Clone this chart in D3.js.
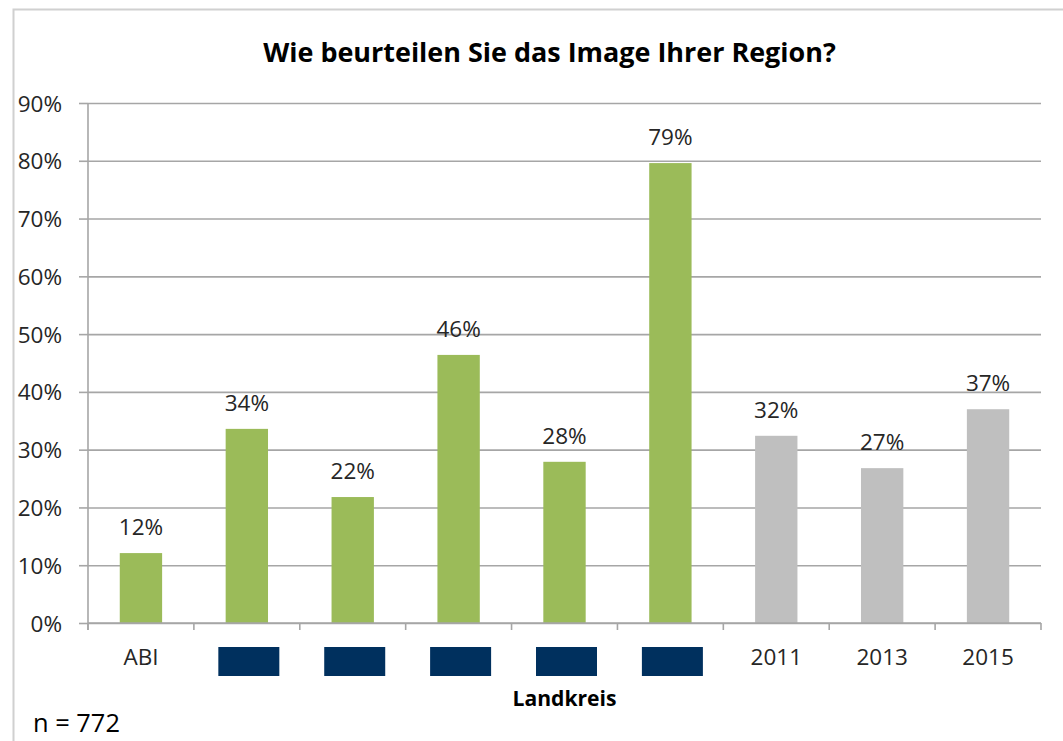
<!DOCTYPE html>
<html>
<head>
<meta charset="utf-8">
<script src="https://cdn.jsdelivr.net/npm/d3@7"></script>
<style>
  html, body { margin: 0; padding: 0; background: #fff; }
  svg { display: block; }
  text { font-family: "Open Sans", "Noto Sans", sans-serif; }
</style>
</head>
<body>
<svg id="chart" width="1063" height="741"></svg>
<script>
// ---- data ----
const title = "Wie beurteilen Sie das Image Ihrer Region?";
const categories = ["ABI", "Kreis A", "Kreis B", "Kreis C", "Kreis D", "Kreis E", "2011", "2013", "2015"];
const redacted = [false, true, true, true, true, true, false, false, false];
const values = [12.1, 33.6, 21.8, 46.4, 27.9, 79.6, 32.4, 26.8, 37.0];
const valueLabels = ["12%", "34%", "22%", "46%", "28%", "79%", "32%", "27%", "37%"];
const groups = ["region", "region", "region", "region", "region", "region", "year", "year", "year"];
const yTicks = [0, 10, 20, 30, 40, 50, 60, 70, 80, 90];
const xAxisTitle = "Landkreis";
const footnote = "n = 772";

// ---- layout ----
const W = 1063, H = 741;
const plot = { left: 88, right: 1041, top: 103, bottom: 623 };
const colors = { region: "#9BBB59", year: "#BFBFBF" };
const axisColor = "#A6A6A6";
const textColor = "#262626";

const svg = d3.select("#chart");
svg.append("rect").attr("width", W).attr("height", H).attr("fill", "#fff");

// chart frame (extends past right/bottom)
svg.append("rect")
  .attr("x", 13.5).attr("y", 9.5)
  .attr("width", W + 20).attr("height", H + 20)
  .attr("fill", "none").attr("stroke", "#D0D0D0").attr("stroke-width", 2);

const x = d3.scaleBand().domain(categories).range([plot.left, plot.right]).paddingInner(0).paddingOuter(0);
const y = d3.scaleLinear().domain([0, 90]).range([plot.bottom, plot.top]);
const bw = x.bandwidth();

// gridlines
const grid = svg.append("g").attr("transform", `translate(${plot.left},0)`)
  .call(d3.axisLeft(y).tickValues(yTicks).tickSize(-(plot.right - plot.left)).tickFormat(""));
grid.select(".domain").remove();
grid.selectAll("line").attr("stroke", axisColor).attr("stroke-width", 1.6);

// y axis with tick marks and labels
const yAxis = svg.append("g").attr("transform", `translate(${plot.left},0)`)
  .call(d3.axisLeft(y).tickValues(yTicks).tickSize(9).tickPadding(17).tickFormat(d => d + "%"));
yAxis.select(".domain").attr("stroke", axisColor).attr("stroke-width", 1.6)
  .attr("d", `M0,${plot.top}V${plot.bottom + 7}`);
yAxis.selectAll("line").attr("stroke", axisColor).attr("stroke-width", 1.6);
yAxis.selectAll("text").attr("font-size", 22.5).attr("fill", textColor).attr("dy", "0.36em");

// bars
svg.append("g").selectAll("rect")
  .data(categories)
  .join("rect")
  .attr("x", (d) => x(d) + bw * 0.3)
  .attr("width", bw * 0.4)
  .attr("y", (d, i) => y(values[i]))
  .attr("height", (d, i) => y(0) - y(values[i]))
  .attr("fill", (d, i) => colors[groups[i]]);

// value labels
svg.append("g").selectAll("text")
  .data(categories)
  .join("text")
  .attr("x", d => x(d) + bw / 2)
  .attr("y", (d, i) => y(values[i]) - 18)
  .attr("text-anchor", "middle")
  .attr("font-size", 22.5)
  .attr("fill", textColor)
  .text((d, i) => valueLabels[i]);

// x axis line + boundary ticks
const xg = svg.append("g");
xg.append("line")
  .attr("x1", plot.left).attr("x2", plot.right)
  .attr("y1", plot.bottom).attr("y2", plot.bottom)
  .attr("stroke", axisColor).attr("stroke-width", 1.6);
const bounds = categories.map(c => x(c)).concat([x.range()[1]]);
xg.selectAll("line.tick").data(bounds).join("line")
  .attr("class", "tick")
  .attr("x1", d => d).attr("x2", d => d)
  .attr("y1", plot.bottom).attr("y2", plot.bottom + 7)
  .attr("stroke", axisColor).attr("stroke-width", 1.6);

// category labels
const xAxis = svg.append("g").attr("transform", `translate(0,${plot.bottom})`)
  .call(d3.axisBottom(x).tickSize(0).tickPadding(26).tickFormat((d, i) => redacted[i] ? "" : d));
xAxis.select(".domain").remove();
xAxis.selectAll("text").attr("font-size", 22.5).attr("fill", textColor);

// redaction blocks
svg.append("g").selectAll("rect")
  .data(categories.filter((d, i) => redacted[i]))
  .join("rect")
  .attr("x", d => x(d) + bw / 2 - 28.5)
  .attr("y", 647)
  .attr("width", 61)
  .attr("height", 29)
  .attr("fill", "#00305E");

// fit helper
function fitWidth(sel, target) {
  const w = sel.node().getComputedTextLength();
  const fs = parseFloat(sel.attr("font-size"));
  sel.attr("font-size", fs * target / w);
}

// title
const t = svg.append("text")
  .attr("x", 549.5).attr("y", 62)
  .attr("text-anchor", "middle")
  .attr("font-size", 26).attr("font-weight", "bold")
  .attr("fill", "#000")
  .text(title);
fitWidth(t, 573);

// x axis title
const xt = svg.append("text")
  .attr("x", x(categories[4]) + bw / 2).attr("y", 706)
  .attr("text-anchor", "middle")
  .attr("font-size", 20).attr("font-weight", "bold")
  .attr("fill", "#000")
  .text(xAxisTitle);
fitWidth(xt, 104);

// footnote
const fn = svg.append("text")
  .attr("x", 33).attr("y", 732)
  .attr("font-size", 23)
  .attr("fill", "#000")
  .text(footnote);
fitWidth(fn, 87);
</script>
</body>
</html>
